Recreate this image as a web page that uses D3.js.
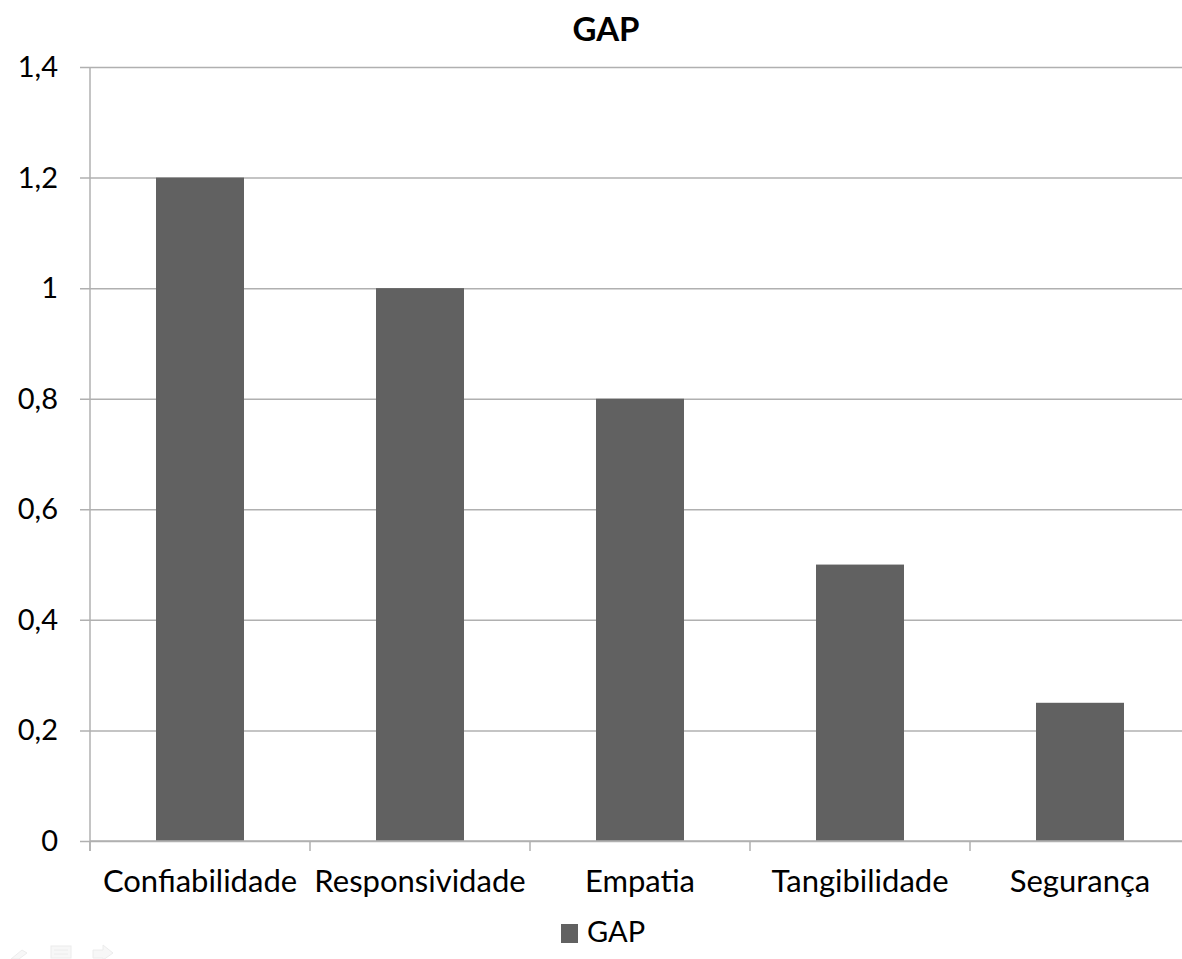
<!DOCTYPE html>
<html>
<head>
<meta charset="utf-8">
<script src="https://cdn.jsdelivr.net/npm/d3@7"></script>
<style>
  html, body { margin: 0; padding: 0; background: #fff; }
  svg { display: block; }
  text { font-family: Lato, "Open Sans", sans-serif; fill: #000; }
</style>
</head>
<body>
<svg id="chart" width="1182" height="959"></svg>
<script>
// Chart data
const categories = ["Confiabilidade", "Responsividade", "Empatia", "Tangibilidade", "Segurança"];
const gapValues = [1.2, 1.0, 0.8, 0.5, 0.25];
const yTicks = [0, 0.2, 0.4, 0.6, 0.8, 1.0, 1.2, 1.4];
const seriesName = "GAP";
const chartTitle = "GAP";

const svg = d3.select("#chart");
const plot = { left: 90, right: 1190, top: 67, bottom: 841 };

const x = d3.scaleBand()
  .domain(categories)
  .range([plot.left, plot.right])
  .paddingInner(0.6)
  .paddingOuter(0.3);

const y = d3.scaleLinear()
  .domain([0, 1.4])
  .range([plot.bottom, plot.top]);

const fmt = v => d3.format("~g")(+v.toFixed(2)).replace(".", ",");

// Horizontal gridlines with short tick stubs on the left
const gridG = svg.append("g")
  .attr("transform", `translate(${plot.left},0)`)
  .call(d3.axisLeft(y).tickValues(yTicks).tickSize(-(plot.right - plot.left)).tickFormat(""));
gridG.select(".domain").remove();
gridG.selectAll(".tick line")
  .attr("stroke", "#b0b0b0").attr("stroke-width", 1.5)
  .attr("x1", -10);

// Y tick labels
svg.append("g").selectAll("text")
  .data(yTicks)
  .join("text")
  .attr("x", 58)
  .attr("y", d => y(d) + 10)
  .attr("text-anchor", "end")
  .style("font-size", "29px")
  .text(fmt);

// Vertical axis line
svg.append("line")
  .attr("x1", plot.left).attr("x2", plot.left)
  .attr("y1", plot.top).attr("y2", plot.bottom + 10)
  .attr("stroke", "#b0b0b0").attr("stroke-width", 1.5);

// Bars
svg.append("g").selectAll("rect")
  .data(categories.map((c, i) => ({ c, v: gapValues[i] })))
  .join("rect")
  .attr("x", d => x(d.c))
  .attr("y", d => y(d.v))
  .attr("width", x.bandwidth())
  .attr("height", d => y(0) - y(d.v))
  .attr("fill", "#616161");

// Baseline and category dividers
svg.append("line")
  .attr("x1", plot.left).attr("x2", plot.right)
  .attr("y1", plot.bottom).attr("y2", plot.bottom)
  .attr("stroke", "#b0b0b0").attr("stroke-width", 1.5);

const dividers = d3.range(categories.length + 1).map(i => plot.left + i * (plot.right - plot.left) / categories.length);
svg.append("g").selectAll("line")
  .data(dividers)
  .join("line")
  .attr("x1", d => d).attr("x2", d => d)
  .attr("y1", plot.bottom).attr("y2", plot.bottom + 10)
  .attr("stroke", "#b0b0b0").attr("stroke-width", 1.5);

// Category labels
svg.append("g").selectAll("text")
  .data(categories)
  .join("text")
  .attr("x", d => x(d) + x.bandwidth() / 2)
  .attr("y", 892)
  .attr("text-anchor", "middle")
  .style("font-size", "31px")
  .text(d => d);

// Title
svg.append("text")
  .attr("x", 606).attr("y", 41)
  .attr("text-anchor", "middle")
  .style("font-size", "33px")
  .style("font-weight", "bold")
  .text(chartTitle);

// Legend
const legend = svg.append("g");
legend.append("rect")
  .attr("x", 561).attr("y", 924).attr("width", 17).attr("height", 19)
  .attr("fill", "#616161");
legend.append("text")
  .attr("x", 587).attr("y", 942)
  .style("font-size", "29px")
  .text(seriesName);

// Faint toolbar glyphs in the lower-left corner
const tools = svg.append("g").attr("fill", "#f7f7f7").attr("stroke", "#ececec").attr("stroke-width", 1);
tools.append("path").attr("d", "M11,959 L22,950 L27,953 L19,959 Z");
tools.append("rect").attr("x", 51).attr("y", 946).attr("width", 20).attr("height", 12);
tools.append("path").attr("d", "M54,950 L68,950 M54,954 L68,954").attr("fill", "none");
tools.append("path").attr("d", "M93,950 L103,950 L103,945 L113,953 L103,960 L103,958 L93,958 Z");
</script>
</body>
</html>
